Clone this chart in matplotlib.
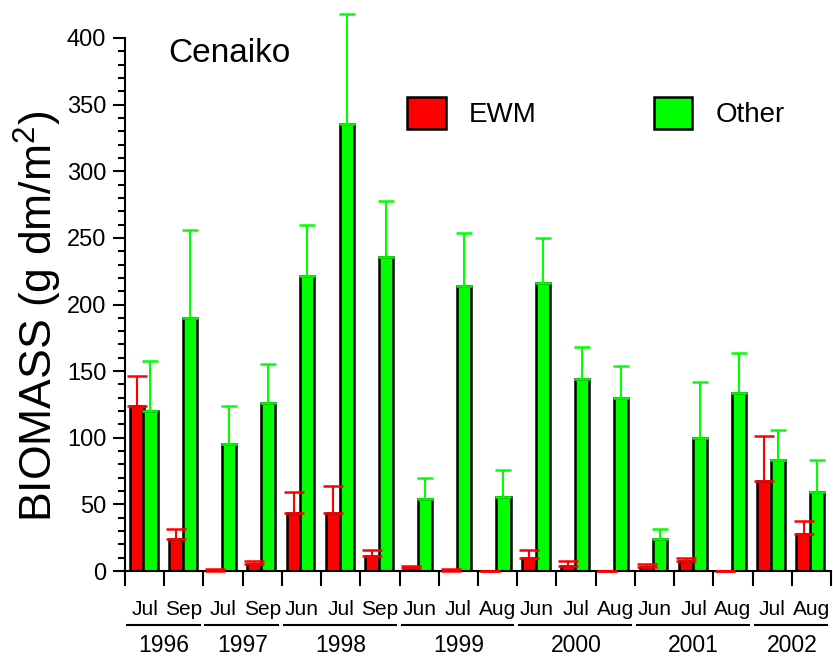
import matplotlib
matplotlib.use('Agg')
import matplotlib.pyplot as plt
import matplotlib.transforms as mtransforms
from matplotlib.ticker import MultipleLocator
import numpy as np

plt.rcParams['font.family'] = ['Liberation Sans', 'DejaVu Sans']
plt.rcParams['mathtext.fontset'] = 'custom'
plt.rcParams['mathtext.rm'] = 'Liberation Sans'
plt.rcParams['mathtext.it'] = 'Liberation Sans'

# sampling months and the year each group belongs to
months = ['Jul', 'Sep', 'Jul', 'Sep', 'Jun', 'Jul', 'Sep', 'Jun', 'Jul', 'Aug',
          'Jun', 'Jul', 'Aug', 'Jun', 'Jul', 'Aug', 'Jul', 'Aug']
years = ['1996', '1997', '1998', '1999', '2000', '2001', '2002']
months_per_year = [2, 2, 3, 3, 3, 3, 2]

# biomass means and the top of the error bar (mean + SE)
ewm = [124, 24, 0, 5, 43.5, 43.5, 11.5, 2.5, 0, 0,
       10, 3.5, 0, 3.3, 7.5, 0, 67.5, 27.5]
ewm_top = [146, 31.5, 1.5, 7.5, 59.5, 63.6, 15.6, 3.8, 1.7, 0,
           15.8, 7.5, 0, 5.5, 9.7, 0, 101.3, 37.3]
other = [120, 189.6, 95.6, 126, 221.4, 335.5, 236, 53.8, 213.9, 55.8,
         216, 143.9, 129.8, 23.8, 99.6, 133.8, 83.5, 59.3]
other_top = [157.6, 255.7, 123.8, 155.6, 259.7, 417.8, 277.7, 69.6, 253.9, 75.6,
             249.7, 167.9, 153.6, 31.5, 141.6, 163.4, 105.6, 83.5]

red = '#FF0000'
green = '#00FF00'

fig = plt.figure(figsize=(8.33, 6.57), dpi=100)
ax = fig.add_axes([125 / 833, 1 - 571 / 657, 706 / 833, 533 / 657])

x = np.arange(len(months))
w = 0.36
xr = x + 0.30
xg = x + 0.65

ewm = np.array(ewm)
other = np.array(other)
ewm_err = np.array(ewm_top) - ewm
other_err = np.array(other_top) - other

ax.bar(xr, ewm, width=w, color=red, edgecolor='black', linewidth=1.8, label='EWM', zorder=2)
ax.bar(xg, other, width=w, color=green, edgecolor='black', linewidth=1.8, label='Other', zorder=2)
ax.errorbar(xr, ewm, yerr=[np.zeros_like(ewm), ewm_err], fmt='none', ecolor=red,
            elinewidth=1.5, capsize=7, capthick=1.8, clip_on=False, zorder=3)
ax.errorbar(xg, other, yerr=[np.zeros_like(other), other_err], fmt='none', ecolor=green,
            elinewidth=1.5, capsize=6, capthick=1.8, clip_on=False, zorder=3)

ax.set_xlim(0, len(months))
ax.set_ylim(0, 400)

for s in ['top', 'right']:
    ax.spines[s].set_visible(False)
for s in ['left', 'bottom']:
    ax.spines[s].set_linewidth(1.5)

ax.yaxis.set_major_locator(MultipleLocator(50))
ax.yaxis.set_minor_locator(MultipleLocator(10))
ax.tick_params(axis='y', which='major', length=8.5, width=1.5, pad=5, labelsize=17)
ax.tick_params(axis='y', which='minor', length=5, width=1.5)

ax.set_xticks(np.arange(len(months) + 1))
ax.set_xticklabels([])
ax.set_xticks(x + 0.5, minor=True)
ax.set_xticklabels(months, minor=True)
ax.tick_params(axis='x', which='major', length=11, width=1.5)
ax.tick_params(axis='x', which='minor', length=0, pad=21, labelsize=15)

# year groups under the month labels
trans = mtransforms.blended_transform_factory(ax.transData, ax.transAxes)
start = 0
for yr, n in zip(years, months_per_year):
    ax.plot([start + 0.05, start + n - 0.1], [-0.101, -0.101], color='black',
            linewidth=1.5, transform=trans, clip_on=False)
    ax.text(start + n / 2, -0.152, yr, transform=trans, ha='center', va='baseline',
            fontsize=16.5)
    start += n

ax.text(0.061, 0.955, 'Cenaiko', transform=ax.transAxes, fontsize=24, va='baseline')

ax.legend(loc='center left', bbox_to_anchor=(0.399, 0.859), ncol=2, frameon=False,
          fontsize=20, handlelength=1.4, handleheight=1.4, handletextpad=0.85,
          columnspacing=4.2, borderpad=0, borderaxespad=0)

fig.text(38 / 833, 1 - 316 / 657, r'BIOMASS (g dm/m$^{2}$)', rotation=90,
         ha='center', va='center', fontsize=32)

fig.savefig('out.png', dpi=100)
